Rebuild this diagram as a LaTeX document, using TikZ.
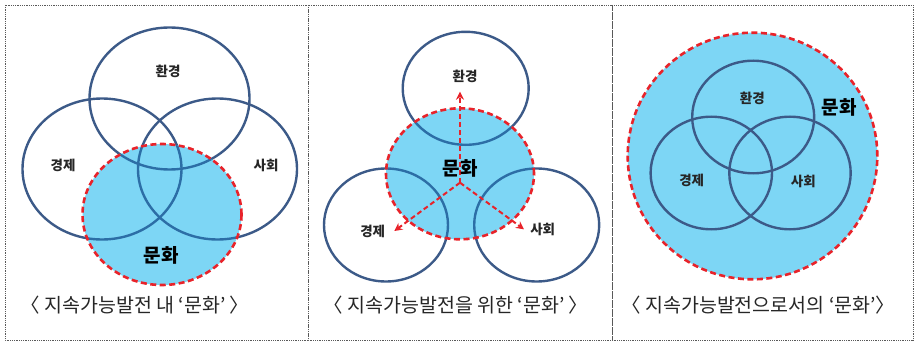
\documentclass[tikz,border=0pt]{standalone}
\usepackage{fontspec}
\setmainfont{Noto Sans CJK KR}
\usetikzlibrary{shapes.geometric,arrows.meta}
\definecolor{ringblue}{HTML}{3C5A88}
\definecolor{ringinside}{HTML}{2C6EA6}
\definecolor{culture}{HTML}{7DD6F5}
\definecolor{cred}{HTML}{E8232A}
\begin{document}
\begin{tikzpicture}[x=1pt,y=-1pt,
  panel/.style={draw=gray!70!black, densely dotted, line width=0.8pt},
  ring/.style={ellipse, draw=ringblue, line width=2.4pt, inner sep=0pt, outer sep=0pt},
  insideline/.style={draw=ringinside, solid, line width=2.4pt},
  culturering/.style={ellipse, fill=culture, draw=cred, dash pattern=on 6pt off 3.5pt, line width=2.6pt, inner sep=0pt, outer sep=0pt},
  lab/.style={font=\fontsize{13.5}{15}\selectfont\bfseries, text=black!85},
  biglab/.style={font=\fontsize{19}{21}\selectfont\bfseries, text=black},
  captext/.style={font=\fontsize{19.5}{21}\selectfont, text=black!85},
  redarrow/.style={draw=cred, line width=2pt, dash pattern=on 5pt off 3pt, -{Stealth[length=8pt,width=8pt]}}
]
\useasboundingbox (0,0) rectangle (918,342);
% panels
\draw[panel] (5,5) rectangle (308,340);
\draw[panel] (308,5) rectangle (612,340);
\draw[panel] (612,5) rectangle (913,340);

% ---------- panel 1 ----------
\node[ring, minimum width=160pt, minimum height=142pt] (envA) at (169.5,98.5) {};
\node[ring, minimum width=159pt, minimum height=141pt] (ecoA) at (102,169) {};
\node[ring, minimum width=159pt, minimum height=141pt] (socA) at (217.5,169) {};
\node[culturering, minimum width=159pt, minimum height=141pt,
  path picture={
    \draw[insideline] (envA.center) ellipse [x radius=80pt, y radius=71pt];
    \draw[insideline] (ecoA.center) ellipse [x radius=79.5pt, y radius=70.5pt];
    \draw[insideline] (socA.center) ellipse [x radius=79.5pt, y radius=70.5pt];
  }] (culA) at (162,214.5) {};
\node[lab] (envAl) at (168,71) {환경};
\node[lab] (ecoAl) at (63,165) {경제};
\node[lab] (socAl) at (266,165) {사회};
\node[biglab] (culAl) at (161,255) {문화};
\node[captext] (capA) at (135,305) {〈 지속가능발전 내 ‘문화’ 〉};

% ---------- panel 2 ----------
\node[ring, minimum width=126pt, minimum height=113pt] (envB) at (465.7,88.3) {};
\node[ring, minimum width=124pt, minimum height=113pt] (ecoB) at (386,225) {};
\node[ring, minimum width=125pt, minimum height=113pt] (socB) at (536.7,225) {};
\node[culturering, minimum width=148pt, minimum height=131pt,
  path picture={
    \draw[insideline] (envB.center) ellipse [x radius=63pt, y radius=56.5pt];
    \draw[insideline] (ecoB.center) ellipse [x radius=62pt, y radius=56.5pt];
    \draw[insideline] (socB.center) ellipse [x radius=62.5pt, y radius=56.5pt];
  }] (culB) at (460,173.8) {};
\coordinate (hub) at (460,182.7);
\coordinate (tipEnv) at (460,91.7);
\coordinate (tipEco) at (394.3,231);
\coordinate (tipSoc) at (524,229.3);
\draw[redarrow] (hub) -- (tipEnv);
\draw[redarrow] (hub) -- (tipEco);
\draw[redarrow] (hub) -- (tipSoc);
\node[lab] (envBl) at (465,76.7) {환경};
\node[lab] (ecoBl) at (372.7,231.7) {경제};
\node[lab] (socBl) at (542.7,229.3) {사회};
\node[biglab] (culBl) at (460,168.3) {문화};
\node[captext] (capB) at (456,305) {〈 지속가능발전을 위한 ‘문화’ 〉};

% ---------- panel 3 ----------
\node[culturering, minimum width=249.6pt, minimum height=246.6pt] (culC) at (752.5,156) {};
\node[ring, minimum width=122pt, minimum height=112.6pt] (envC) at (753.2,117) {};
\node[ring, minimum width=121.4pt, minimum height=112.6pt] (ecoC) at (711.3,173) {};
\node[ring, minimum width=121.4pt, minimum height=112.6pt] (socC) at (790,173) {};
\node[lab] (envCl) at (752.3,98.3) {환경};
\node[lab] (ecoCl) at (691.7,180) {경제};
\node[lab] (socCl) at (803.3,181.7) {사회};
\node[biglab] (culCl) at (839.3,107.3) {문화};
\node[captext] (capC) at (758.3,305) {〈 지속가능발전으로서의 ‘문화’〉};
\end{tikzpicture}
\end{document}
